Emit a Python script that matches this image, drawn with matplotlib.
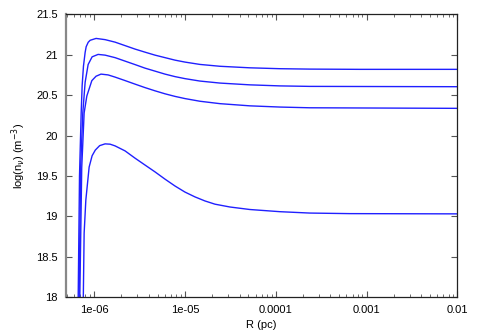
import matplotlib
matplotlib.use("Agg")
import matplotlib.pyplot as plt
from matplotlib.ticker import FixedLocator, FixedFormatter, LogLocator, NullFormatter

# values (R in pc, log density)
r1 = [6.6e-7, 6.9e-7, 7.05e-7, 7.2e-7, 7.38e-7, 7.63e-7, 7.96e-7, 8.17e-7, 8.6e-7,
      9.04e-7, 1.05e-6, 1.32e-6, 1.70e-6, 2.19e-6, 2.82e-6, 3.63e-6, 4.68e-6,
      6.03e-6, 7.77e-6, 1.0e-5, 1.46e-5, 2.43e-5, 5.18e-5, 1.11e-4, 2.36e-4,
      8.4e-4, 1e-2]
n1 = [17.5, 19.5, 19.9, 20.28, 20.62, 20.86, 21.03, 21.10, 21.155,
      21.18, 21.203, 21.188, 21.157, 21.114, 21.071, 21.033, 20.996,
      20.965, 20.934, 20.91, 20.881, 20.858, 20.839, 20.828, 20.823,
      20.82, 20.82]

r2 = [6.75e-7, 7.1e-7, 7.5e-7, 7.96e-7, 8.59e-7, 9.5e-7, 1.106e-6, 1.32e-6, 1.70e-6,
      2.19e-6, 2.82e-6, 3.63e-6, 4.68e-6, 6.03e-6, 7.77e-6, 1.0e-5, 1.46e-5,
      2.43e-5, 5.18e-5, 1.11e-4, 2.36e-4, 1e-2]
n2 = [17.5, 19.6, 20.28, 20.66, 20.88, 20.975, 21.005, 20.996, 20.965,
      20.922, 20.879, 20.835, 20.798, 20.761, 20.73, 20.705, 20.675,
      20.65, 20.628, 20.615, 20.609, 20.605]

r3 = [6.85e-7, 7.3e-7, 7.76e-7, 8.31e-7, 9.43e-7, 1.05e-6, 1.19e-6, 1.425e-6, 1.70e-6,
      2.19e-6, 2.82e-6, 3.63e-6, 4.68e-6, 6.03e-6, 7.77e-6, 1.0e-5, 1.46e-5,
      2.43e-5, 5.18e-5, 1.11e-4, 2.36e-4, 1e-2]
n3 = [17.5, 19.6, 20.28, 20.49, 20.68, 20.735, 20.761, 20.751, 20.724,
      20.681, 20.637, 20.594, 20.554, 20.517, 20.485, 20.458, 20.425,
      20.395, 20.368, 20.353, 20.344, 20.337]

r4 = [7.3e-7, 7.6e-7, 7.76e-7, 8.1e-7, 8.81e-7, 9.5e-7, 1.03e-6, 1.15e-6, 1.32e-6,
      1.50e-6, 1.70e-6, 2.19e-6, 2.82e-6, 3.63e-6, 4.68e-6, 6.03e-6, 7.77e-6, 1.0e-5,
      1.29e-5, 1.66e-5, 2.14e-5, 3.13e-5, 5.18e-5, 1.11e-4, 2.36e-4, 6.5e-4, 1e-2]
n4 = [17.5, 18.0, 18.79, 19.2, 19.61, 19.75, 19.82, 19.875, 19.897,
      19.893, 19.872, 19.81, 19.72, 19.635, 19.55, 19.46, 19.375, 19.30,
      19.24, 19.19, 19.15, 19.115, 19.084, 19.057, 19.04, 19.033, 19.03]

xticks = [1e-6, 1e-5, 1e-4, 1e-3, 1e-2]
xlabels = ["1e-06", "1e-05", "0.0001", "0.001", "0.01"]
yticks = [18, 18.5, 19, 19.5, 20, 20.5, 21, 21.5]
ylabels = ["18", "18.5", "19", "19.5", "20", "20.5", "21", "21.5"]

plt.rcParams["font.family"] = ["Liberation Sans", "DejaVu Sans"]
plt.rcParams["font.size"] = 8

fig = plt.figure(figsize=(4.8, 3.36), dpi=100)
ax = fig.add_axes([0.1375, 0.116, 0.8155, 0.841])

for r, n in [(r1, n1), (r2, n2), (r3, n3), (r4, n4)]:
    ax.plot(r, n, color="#2020ff", lw=1.0)

ax.set_xscale("log")
ax.set_xlim(4.9e-7, 1e-2)
ax.set_ylim(18, 21.5)

ax.xaxis.set_major_locator(FixedLocator(xticks))
ax.xaxis.set_major_formatter(FixedFormatter(xlabels))
ax.xaxis.set_minor_locator(LogLocator(base=10, subs=range(2, 10)))
ax.xaxis.set_minor_formatter(NullFormatter())
ax.yaxis.set_major_locator(FixedLocator(yticks))
ax.yaxis.set_major_formatter(FixedFormatter(ylabels))

ax.tick_params(which="both", direction="in", top=True, right=True, color="#555555")
ax.tick_params(which="major", length=4, width=0.8, pad=6)
ax.tick_params(which="minor", length=2, width=0.6)

for s in ax.spines.values():
    s.set_color("#222222")
    s.set_linewidth(0.9)
ax.spines["left"].set_color("#888888")
ax.spines["left"].set_linewidth(1.6)

ax.set_xlabel("R (pc)", labelpad=3)
ax.set_ylabel(r"log(n$_\nu$) (m$^{-3}$)", labelpad=6)

fig.savefig("out.png", dpi=100)
